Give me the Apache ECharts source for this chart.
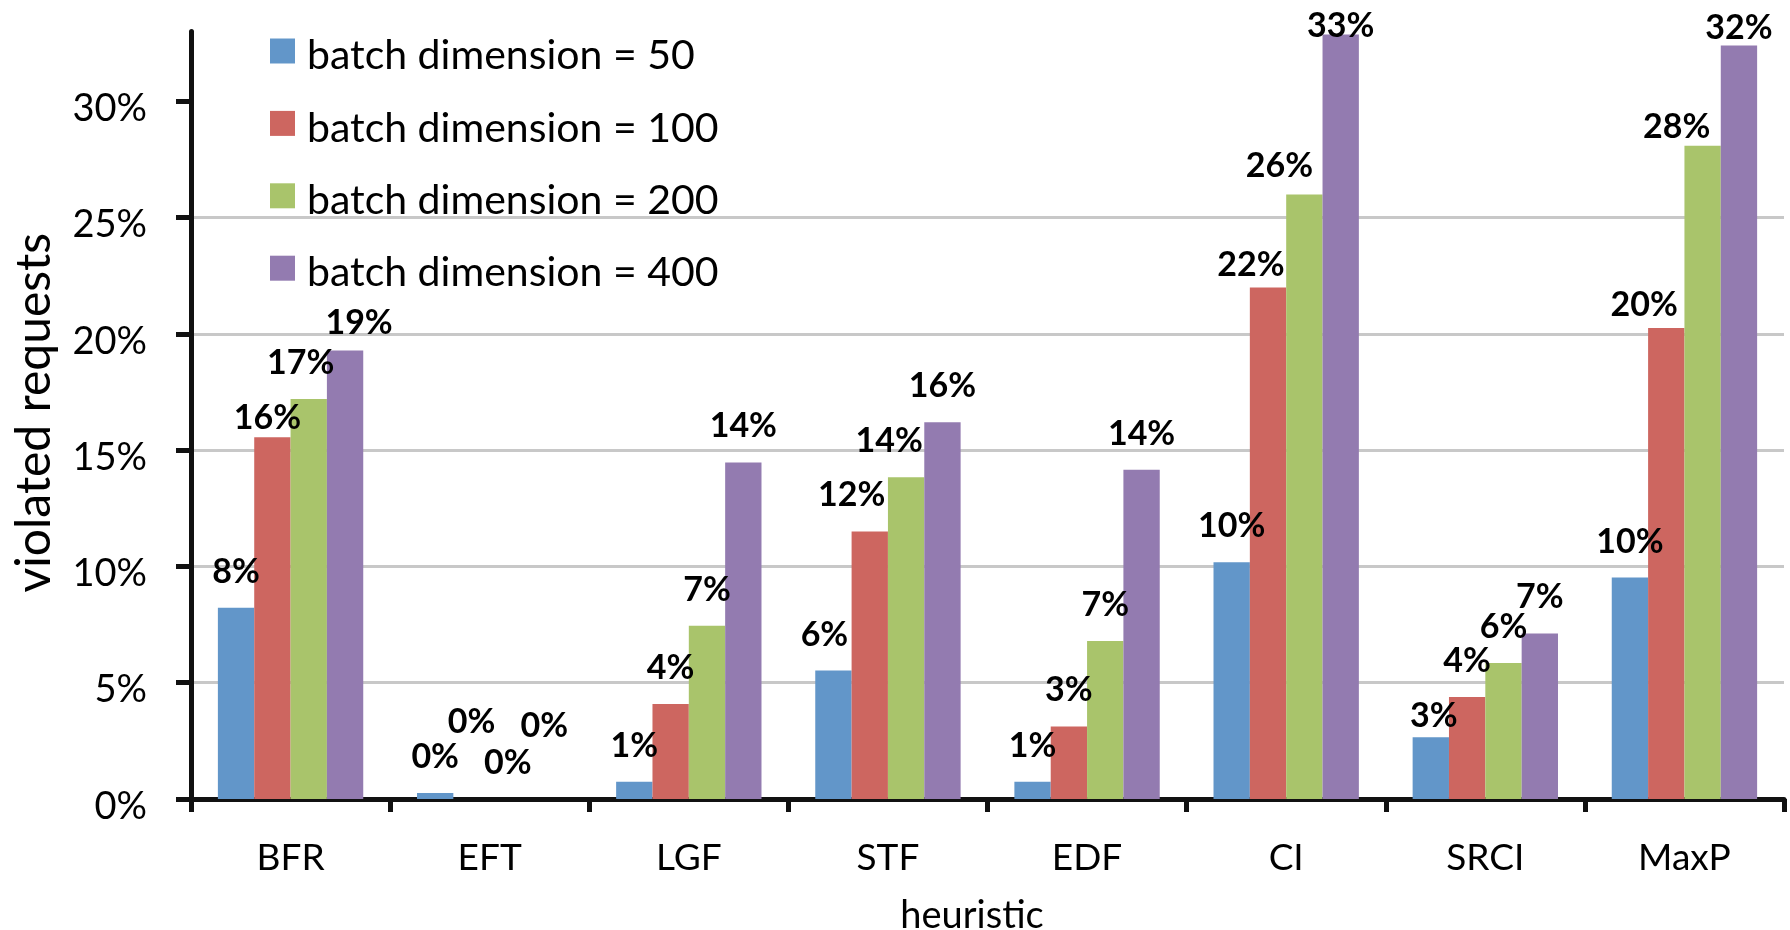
<!DOCTYPE html>
<html>
<head>
<meta charset="utf-8">
<script src="https://cdn.jsdelivr.net/npm/echarts@6/dist/echarts.min.js"></script>
<style>
html,body{margin:0;padding:0;background:#ffffff;}
#chart{width:1790px;height:930px;}
</style>
</head>
<body>
<div id="chart"></div>
<script>
// ---- data ----
const categories = ['BFR', 'EFT', 'LGF', 'STF', 'EDF', 'CI', 'SRCI', 'MaxP'];
const seriesNames = ['batch dimension = 50', 'batch dimension = 100', 'batch dimension = 200', 'batch dimension = 400'];
const batch50  = [8.22, 0.26, 0.74, 5.52, 0.74, 10.18, 2.66, 9.52];
const batch100 = [15.55, 0, 4.08, 11.5, 3.12, 21.99, 4.39, 20.25];
const batch200 = [17.2, 0, 7.45, 13.83, 6.79, 25.99, 5.85, 28.08];
const batch400 = [19.28, 0, 14.47, 16.2, 14.16, 32.87, 7.12, 32.39];
const yTicks = [0, 5, 10, 15, 20, 25, 30];
const yMax = 33;
const xAxisTitle = 'heuristic';
const yAxisTitle = 'violated requests';

// ---- styling ----
const colors = ['#6296C9', '#CD6660', '#A9C46B', '#937BB0'];
const FONT = 'Lato';
// manual label nudges (pixels) as in the original figure
const labelNudge = [
  {STF: [-9, 0], SRCI: [3, 15]},
  {BFR: [-5, 17], EFT: [0, -41], STF: [-18, 0], CI: [-17, 14], MaxP: [-22, 13]},
  {BFR: [-8, 0], STF: [-17, 0], CI: [-25, 8], MaxP: [-26, 17]},
  {BFR: [14, 8], EFT: [0, -37], CI: [0, 28], MaxP: [0, 18]}
];

const allValues = [batch50, batch100, batch200, batch400];

const series = allValues.map((vals, s) => ({
  name: seriesNames[s],
  type: 'bar',
  barGap: '0%',
  barCategoryGap: '27%',
  itemStyle: {color: colors[s]},
  label: {
    show: true,
    position: 'top',
    distance: 19,
    fontFamily: FONT,
    fontWeight: 'bold',
    fontSize: 34,
    color: '#000',
    formatter: p => Math.round(p.value) + '%'
  },
  data: vals.map((v, i) => {
    const n = labelNudge[s][categories[i]];
    return n ? {value: v, label: {offset: n}} : v;
  })
}));

const chart = echarts.init(document.getElementById('chart'), null, {renderer: 'canvas'});
chart.setOption({
  animation: false,
  backgroundColor: '#ffffff',
  color: colors,
  grid: {left: 191, right: 6, top: 31.4, bottom: 131, containLabel: false, outerBoundsMode: 'none'},
  legend: {
    data: seriesNames,
    orient: 'vertical',
    left: 270,
    top: 25.5,
    padding: 0,
    itemWidth: 25,
    itemHeight: 25,
    itemGap: 21.4,
    icon: 'rect',
    selectedMode: false,
    formatter: name => '{t|' + name + '}',
    textStyle: {
      fontFamily: FONT, fontSize: 41, color: '#000',
      rich: {t: {fontFamily: FONT, fontSize: 41, color: '#000', lineHeight: 40, padding: [10, 0, 0, 7]}}
    }
  },
  xAxis: {
    type: 'category',
    data: categories,
    name: xAxisTitle,
    nameLocation: 'middle',
    nameGap: 98,
    nameTextStyle: {fontFamily: FONT, fontSize: 38, color: '#000', padding: [0, 31, 0, 0]},
    axisLine: {lineStyle: {color: '#111', width: 5}},
    axisTick: {show: true, length: 13, lineStyle: {color: '#111', width: 5}},
    axisLabel: {fontFamily: FONT, fontSize: 37, color: '#000', margin: 41}
  },
  yAxis: {
    type: 'value',
    min: 0,
    max: yMax,
    interval: 5,
    name: yAxisTitle,
    nameLocation: 'middle',
    nameGap: 132,
    nameTextStyle: {fontFamily: FONT, fontSize: 48, color: '#000', padding: [0, 0, 0, 5]},
    axisLine: {show: true, lineStyle: {color: '#111', width: 5}},
    axisTick: {show: true, length: 15, customValues: yTicks, lineStyle: {color: '#111', width: 5}},
    axisLabel: {
      color: '#000', margin: 44,
      customValues: yTicks,
      formatter: v => '{t|' + v + '%}',
      rich: {t: {fontFamily: FONT, fontSize: 38, color: '#000', lineHeight: 38, padding: [15, 0, 0, 0]}}
    },
    splitLine: {show: true, showMinLine: false, showMaxLine: false, lineStyle: {color: '#c8c8c8', width: 3}}
  },
  series: series
});
</script>
</body>
</html>
